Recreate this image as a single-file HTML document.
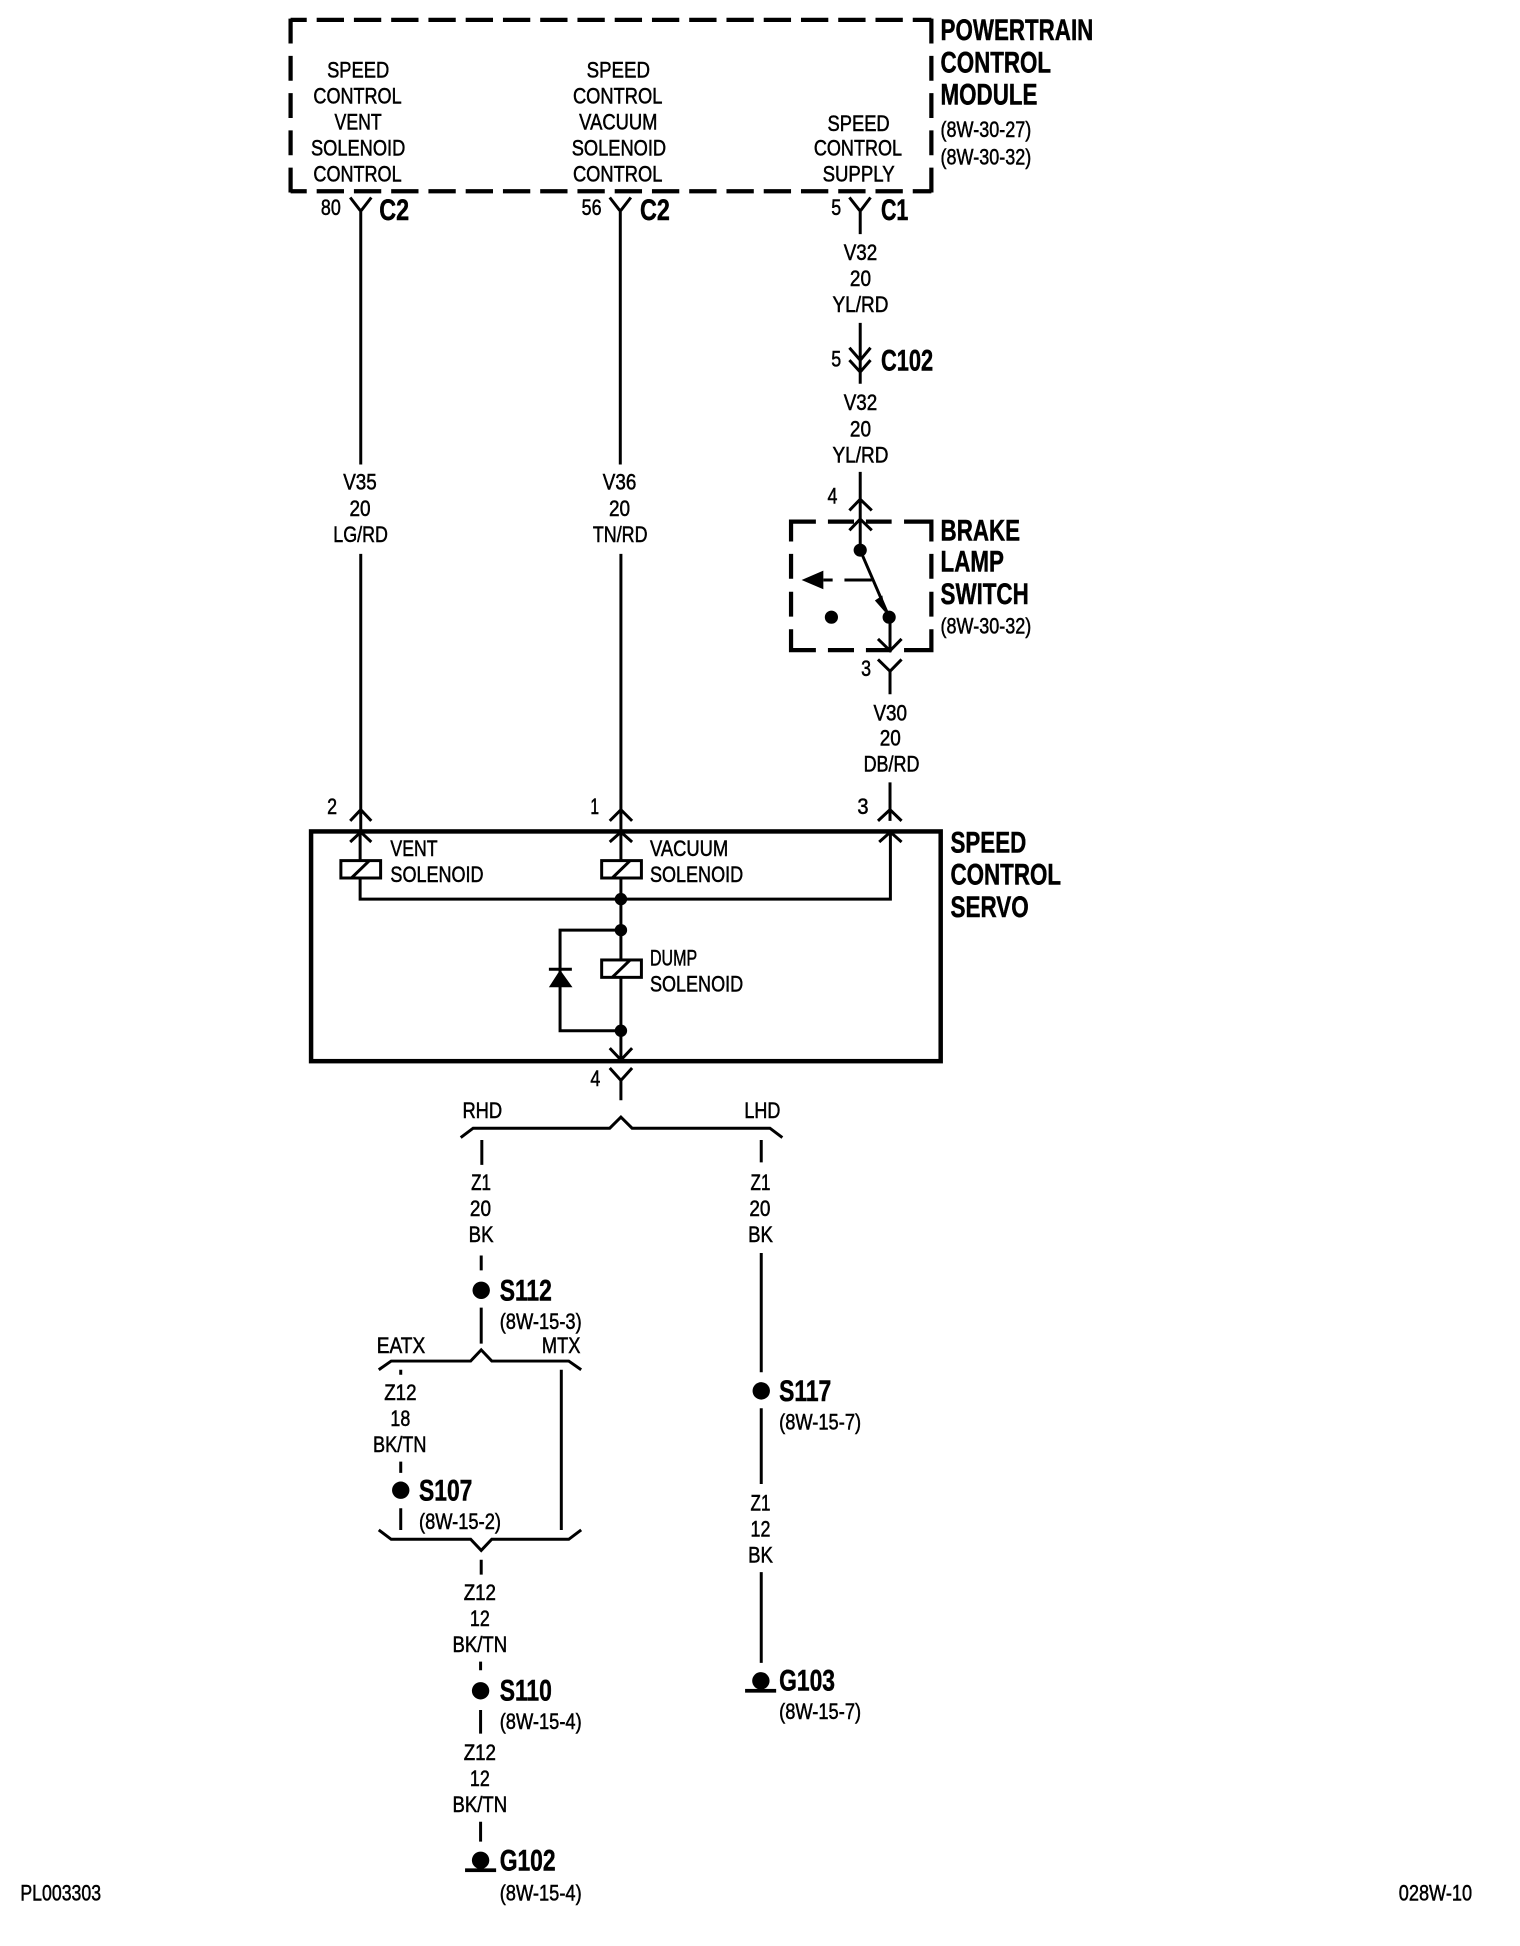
<!DOCTYPE html>
<html><head><meta charset="utf-8"><title>Speed Control Wiring Diagram</title>
<style>
html,body{margin:0;padding:0;background:#fff}
svg{display:block}
text{font-family:"Liberation Sans",sans-serif;fill:#000}
.s{font-size:18px;stroke:#000;stroke-width:.42px}
.b{font-size:24px;font-weight:bold;stroke:#000;stroke-width:.4px}
.w{fill:none;stroke:#000;stroke-width:2.4;stroke-linejoin:miter}
.d{fill:none;stroke:#000;stroke-width:3.4}
.f{fill:#000;stroke:none}
</style></head><body>
<svg xmlns="http://www.w3.org/2000/svg" width="1520" height="1946" viewBox="0 0 1224 1567">
<!-- PCM dashed box -->
<path class="d" stroke-dasharray="22 8" stroke-dashoffset="9" d="M234 16H750M234 154H750"/>
<path class="d" stroke-dasharray="20 10" d="M234 15V155M750 15V155"/>
<g class="s" transform="translate(-.6 -.7)">
<text x="264" y="63" textLength="50" lengthAdjust="spacingAndGlyphs">SPEED</text>
<text x="253" y="84" textLength="71" lengthAdjust="spacingAndGlyphs">CONTROL</text>
<text x="270" y="105" textLength="38" lengthAdjust="spacingAndGlyphs">VENT</text>
<text x="251" y="126" textLength="76" lengthAdjust="spacingAndGlyphs">SOLENOID</text>
<text x="253" y="147" textLength="71" lengthAdjust="spacingAndGlyphs">CONTROL</text>
<text x="473" y="63" textLength="51" lengthAdjust="spacingAndGlyphs">SPEED</text>
<text x="462" y="84" textLength="72" lengthAdjust="spacingAndGlyphs">CONTROL</text>
<text x="467" y="105" textLength="63" lengthAdjust="spacingAndGlyphs">VACUUM</text>
<text x="461" y="126" textLength="76" lengthAdjust="spacingAndGlyphs">SOLENOID</text>
<text x="462" y="147" textLength="72" lengthAdjust="spacingAndGlyphs">CONTROL</text>
<text x="667" y="106" textLength="50" lengthAdjust="spacingAndGlyphs">SPEED</text>
<text x="656" y="126" textLength="71" lengthAdjust="spacingAndGlyphs">CONTROL</text>
<text x="663" y="147" textLength="58" lengthAdjust="spacingAndGlyphs">SUPPLY</text>
<text x="758" y="111" textLength="73" lengthAdjust="spacingAndGlyphs">(8W-30-27)</text>
<text x="758" y="133" textLength="73" lengthAdjust="spacingAndGlyphs">(8W-30-32)</text>
<text x="259" y="174" textLength="16" lengthAdjust="spacingAndGlyphs">80</text>
<text x="469" y="174" textLength="16" lengthAdjust="spacingAndGlyphs">56</text>
<text x="670" y="174" textLength="8" lengthAdjust="spacingAndGlyphs">5</text>
<text x="680" y="210" textLength="27" lengthAdjust="spacingAndGlyphs">V32</text>
<text x="685" y="231" textLength="17" lengthAdjust="spacingAndGlyphs">20</text>
<text x="671" y="252" textLength="45" lengthAdjust="spacingAndGlyphs">YL/RD</text>
<text x="670" y="296" textLength="8" lengthAdjust="spacingAndGlyphs">5</text>
<text x="680" y="331" textLength="27" lengthAdjust="spacingAndGlyphs">V32</text>
<text x="685" y="352" textLength="17" lengthAdjust="spacingAndGlyphs">20</text>
<text x="671" y="373" textLength="45" lengthAdjust="spacingAndGlyphs">YL/RD</text>
<text x="277" y="395" textLength="27" lengthAdjust="spacingAndGlyphs">V35</text>
<text x="282" y="416" textLength="17" lengthAdjust="spacingAndGlyphs">20</text>
<text x="269" y="437" textLength="44" lengthAdjust="spacingAndGlyphs">LG/RD</text>
<text x="486" y="395" textLength="27" lengthAdjust="spacingAndGlyphs">V36</text>
<text x="491" y="416" textLength="17" lengthAdjust="spacingAndGlyphs">20</text>
<text x="478" y="437" textLength="44" lengthAdjust="spacingAndGlyphs">TN/RD</text>
<text x="667" y="406" textLength="8" lengthAdjust="spacingAndGlyphs">4</text>
<text x="758" y="511" textLength="73" lengthAdjust="spacingAndGlyphs">(8W-30-32)</text>
<text x="694" y="545" textLength="8" lengthAdjust="spacingAndGlyphs">3</text>
<text x="704" y="581" textLength="27" lengthAdjust="spacingAndGlyphs">V30</text>
<text x="709" y="601" textLength="17" lengthAdjust="spacingAndGlyphs">20</text>
<text x="696" y="622" textLength="45" lengthAdjust="spacingAndGlyphs">DB/RD</text>
<text x="264" y="656" textLength="8" lengthAdjust="spacingAndGlyphs">2</text>
<text x="476" y="656" textLength="7" lengthAdjust="spacingAndGlyphs">1</text>
<text x="691" y="656" textLength="9" lengthAdjust="spacingAndGlyphs">3</text>
<text x="315" y="690" textLength="38" lengthAdjust="spacingAndGlyphs">VENT</text>
<text x="315" y="711" textLength="75" lengthAdjust="spacingAndGlyphs">SOLENOID</text>
<text x="524" y="690" textLength="63" lengthAdjust="spacingAndGlyphs">VACUUM</text>
<text x="524" y="711" textLength="75" lengthAdjust="spacingAndGlyphs">SOLENOID</text>
<text x="524" y="778" textLength="38" lengthAdjust="spacingAndGlyphs">DUMP</text>
<text x="524" y="799" textLength="75" lengthAdjust="spacingAndGlyphs">SOLENOID</text>
<text x="476" y="875" textLength="8" lengthAdjust="spacingAndGlyphs">4</text>
<text x="373" y="901" textLength="32" lengthAdjust="spacingAndGlyphs">RHD</text>
<text x="600" y="901" textLength="29" lengthAdjust="spacingAndGlyphs">LHD</text>
<text x="380" y="959" textLength="16" lengthAdjust="spacingAndGlyphs">Z1</text>
<text x="379" y="980" textLength="17" lengthAdjust="spacingAndGlyphs">20</text>
<text x="378" y="1001" textLength="20" lengthAdjust="spacingAndGlyphs">BK</text>
<text x="605" y="959" textLength="16" lengthAdjust="spacingAndGlyphs">Z1</text>
<text x="604" y="980" textLength="17" lengthAdjust="spacingAndGlyphs">20</text>
<text x="603" y="1001" textLength="20" lengthAdjust="spacingAndGlyphs">BK</text>
<text x="403" y="1071" textLength="66" lengthAdjust="spacingAndGlyphs">(8W-15-3)</text>
<text x="304" y="1090" textLength="39" lengthAdjust="spacingAndGlyphs">EATX</text>
<text x="437" y="1090" textLength="31" lengthAdjust="spacingAndGlyphs">MTX</text>
<text x="310" y="1128" textLength="26" lengthAdjust="spacingAndGlyphs">Z12</text>
<text x="315" y="1149" textLength="16" lengthAdjust="spacingAndGlyphs">18</text>
<text x="301" y="1170" textLength="43" lengthAdjust="spacingAndGlyphs">BK/TN</text>
<text x="628" y="1152" textLength="66" lengthAdjust="spacingAndGlyphs">(8W-15-7)</text>
<text x="605" y="1217" textLength="16" lengthAdjust="spacingAndGlyphs">Z1</text>
<text x="605" y="1238" textLength="16" lengthAdjust="spacingAndGlyphs">12</text>
<text x="603" y="1259" textLength="20" lengthAdjust="spacingAndGlyphs">BK</text>
<text x="338" y="1232" textLength="66" lengthAdjust="spacingAndGlyphs">(8W-15-2)</text>
<text x="374" y="1289" textLength="26" lengthAdjust="spacingAndGlyphs">Z12</text>
<text x="379" y="1310" textLength="16" lengthAdjust="spacingAndGlyphs">12</text>
<text x="365" y="1331" textLength="44" lengthAdjust="spacingAndGlyphs">BK/TN</text>
<text x="628" y="1385" textLength="66" lengthAdjust="spacingAndGlyphs">(8W-15-7)</text>
<text x="403" y="1393" textLength="66" lengthAdjust="spacingAndGlyphs">(8W-15-4)</text>
<text x="374" y="1418" textLength="26" lengthAdjust="spacingAndGlyphs">Z12</text>
<text x="379" y="1439" textLength="16" lengthAdjust="spacingAndGlyphs">12</text>
<text x="365" y="1460" textLength="44" lengthAdjust="spacingAndGlyphs">BK/TN</text>
<text x="403" y="1531" textLength="66" lengthAdjust="spacingAndGlyphs">(8W-15-4)</text>
<text x="17" y="1531" textLength="65" lengthAdjust="spacingAndGlyphs">PL003303</text>
<text x="1127" y="1531" textLength="59" lengthAdjust="spacingAndGlyphs">028W-10</text>
</g>
<g class="b" transform="translate(-.6 -.7)">
<text x="758" y="33" textLength="123" lengthAdjust="spacingAndGlyphs">POWERTRAIN</text>
<text x="758" y="59" textLength="89" lengthAdjust="spacingAndGlyphs">CONTROL</text>
<text x="758" y="85" textLength="78" lengthAdjust="spacingAndGlyphs">MODULE</text>
<text x="306" y="178" textLength="24" lengthAdjust="spacingAndGlyphs">C2</text>
<text x="516" y="178" textLength="24" lengthAdjust="spacingAndGlyphs">C2</text>
<text x="710" y="178" textLength="22" lengthAdjust="spacingAndGlyphs">C1</text>
<text x="710" y="299" textLength="42" lengthAdjust="spacingAndGlyphs">C102</text>
<text x="758" y="436" textLength="64" lengthAdjust="spacingAndGlyphs">BRAKE</text>
<text x="758" y="461" textLength="51" lengthAdjust="spacingAndGlyphs">LAMP</text>
<text x="758" y="487" textLength="71" lengthAdjust="spacingAndGlyphs">SWITCH</text>
<text x="766" y="687" textLength="61" lengthAdjust="spacingAndGlyphs">SPEED</text>
<text x="766" y="713" textLength="89" lengthAdjust="spacingAndGlyphs">CONTROL</text>
<text x="766" y="739" textLength="63" lengthAdjust="spacingAndGlyphs">SERVO</text>
<text x="403" y="1048" textLength="42" lengthAdjust="spacingAndGlyphs">S112</text>
<text x="628" y="1129" textLength="42" lengthAdjust="spacingAndGlyphs">S117</text>
<text x="338" y="1209" textLength="43" lengthAdjust="spacingAndGlyphs">S107</text>
<text x="403" y="1370" textLength="42" lengthAdjust="spacingAndGlyphs">S110</text>
<text x="628" y="1362" textLength="45" lengthAdjust="spacingAndGlyphs">G103</text>
<text x="403" y="1507" textLength="45" lengthAdjust="spacingAndGlyphs">G102</text>
</g>
<!-- wires -->
<path class="w" d="M282 159L290.500 170L299 159M290.500 170V374
M491 159L499.500 170L508 159M499.500 170V374
M684 159L692.700 170L701 159M692.700 170V188.500
M692.700 260V309M684 280L692.700 290L701 280M684 290L692.700 299.500L701 290
M692.700 380V443M684 411L692.700 402L702 411M684 427L692.700 418L702 427
M692.700 443L716 497
M716.700 497V524M707 514.500L716.700 524L726 514.500
M707 531L716.700 540.500L726 531M716.700 540.500V559
M716.700 630V661M707 661L716.700 652L726 661
M290.500 446V670M282 661L290.500 652L299 661M282 678L290.500 670L299 678
M500 446V853M491 661L500 652L509 661M491 678L500 670L509 678
M708 678L717 670L726 678M717 670V724H290V707M290 692.500V670
M500 749H451V830H500
M491 844L500 853.500L509 844M491 860L500 870L509 860M500 870V886
M663 467H670.500M680 467H702"/>
<path class="f" d="M645.500 467L663 459.500V474.500Z"/>
<path class="f" d="M712.800 493L704.500 483.500L710.500 479.500Z"/>
<!-- dashed brake box -->
<path class="d" stroke-width="3" d="M637 436V420H657M666.700 420H687.700M697.300 420H718M728 420H750V436M637 446V466M637 476.500V496.500M637 506.700V523.500H657M666.700 523.500H687.700M697.300 523.500H718M728 523.500H750V506.700M750 446V466M750 476.500V496.500"/>
<circle class="f" cx="692.700" cy="443" r="5.300"/>
<circle class="f" cx="716" cy="497" r="5.300"/>
<circle class="f" cx="669.500" cy="497" r="5.300"/>
<!-- servo box -->
<rect x="250.500" y="669.500" width="507" height="185" fill="none" stroke="#000" stroke-width="3.600"/>
<g fill="#fff" stroke="#000" stroke-width="2.400">
<rect x="274.500" y="693" width="32" height="14"/>
<rect x="484.500" y="693" width="32" height="14"/>
<rect x="484.500" y="773" width="32" height="14"/>
</g>
<path class="w" d="M283 707L297.500 693M493 707L507.500 693M493 787L507.500 773"/>
<circle class="f" cx="500" cy="724" r="5"/>
<circle class="f" cx="500" cy="749" r="5"/>
<circle class="f" cx="500" cy="830" r="5"/>
<path class="f" d="M451 781L442 795H461Z"/>
<path class="w" d="M442 780.500H460.500"/>
<!-- lower section -->
<path class="w" d="M371 916L381 908.500H491L500 899.500L509 908.500H620L630 916
M388 918V938M613 918V936
M387.500 1011V1023M387.500 1053V1082
M305 1103L315 1096H379L387.500 1087L396 1096H458L468 1103
M322.700 1103V1107M322.700 1177V1186M322.700 1214.500V1232M452 1103V1232
M305 1232L315 1239.500H379L387.500 1248.500L396 1239.500H458L468 1232
M387.500 1256V1268M387 1338V1345M387 1377V1396M387 1467V1483
M613 1009V1105M613 1134V1195M613 1266V1339"/>
<g class="f">
<circle cx="387.500" cy="1039" r="7"/>
<circle cx="613" cy="1120" r="7"/>
<circle cx="322.700" cy="1200" r="7"/>
<circle cx="387" cy="1361.500" r="7"/>
<circle cx="387" cy="1498" r="7"/>
<circle cx="612.700" cy="1353.500" r="7"/>
<rect x="374.500" y="1504.500" width="25" height="3"/>
<rect x="600" y="1360" width="25" height="3"/>
</g>
</svg>
</body></html>
